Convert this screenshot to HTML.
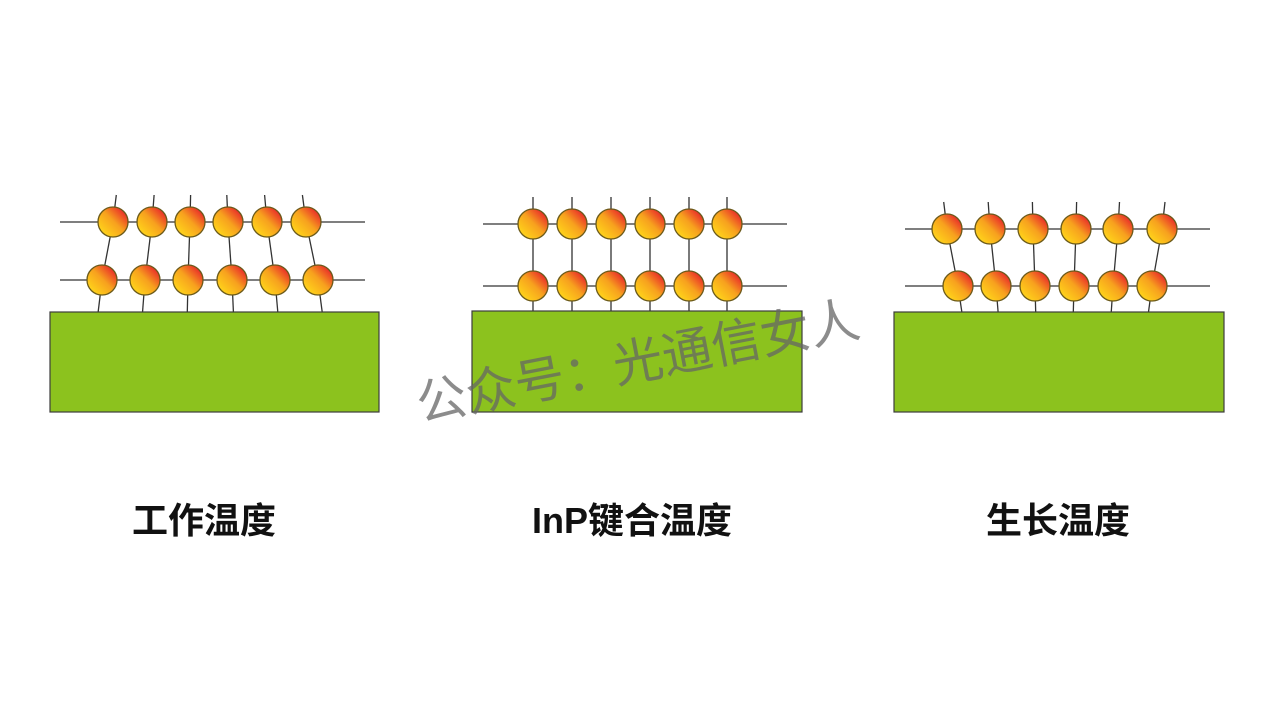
<!DOCTYPE html>
<html><head><meta charset="utf-8"><style>
html,body{margin:0;padding:0;background:#fff;width:1268px;height:714px;overflow:hidden}
</style></head><body>
<svg width="1268" height="714" xmlns="http://www.w3.org/2000/svg">
<defs>
<linearGradient id="g" x1="0.15" y1="0.85" x2="0.9" y2="0.1">
<stop offset="0" stop-color="#ffd21a"/><stop offset="0.5" stop-color="#f7a11e"/><stop offset="1" stop-color="#e8202a"/>
</linearGradient>
</defs>
<g stroke="#333" stroke-width="1.3" fill="none" id="lines"></g>
<g id="balls"></g>
<rect x="50" y="312" width="329" height="100" fill="#8cc21e" stroke="#3c3c3c" stroke-width="1.2"/>
<rect x="472" y="311" width="330" height="101" fill="#8cc21e" stroke="#3c3c3c" stroke-width="1.2"/>
<rect x="894" y="312" width="330" height="100" fill="#8cc21e" stroke="#3c3c3c" stroke-width="1.2"/>
<g font-family="Liberation Sans, Noto Sans CJK SC, sans-serif" font-weight="bold" font-size="36" text-anchor="middle" fill="#111">
<text x="204" y="533">工作温度</text>
<text x="632" y="533">InP键合温度</text>
<text x="1058" y="533">生长温度</text>
</g>
<text x="638" y="379" transform="rotate(-11 638 362)" font-family="Noto Sans CJK SC, sans-serif" font-size="50" text-anchor="middle" fill="#666" fill-opacity="0.75">公众号：光通信女人</text>
</svg>
<script>
const P=[
 {top:[113,152,190,228,267,306],ty:222,bot:[102,145,188,232,275,318],by:280,l:60,r:365,base:312},
 {top:[533,572,611,650,689,727],ty:224,bot:[533,572,611,650,689,727],by:286,l:483,r:787,base:311},
 {top:[947,990,1033,1076,1118,1162],ty:229,bot:[958,996,1035,1074,1113,1152],by:286,l:905,r:1210,base:312}
];
const ns="http://www.w3.org/2000/svg";
const L=document.getElementById('lines'),B=document.getElementById('balls');
function ln(x1,y1,x2,y2){const e=document.createElementNS(ns,'line');e.setAttribute('x1',x1);e.setAttribute('y1',y1);e.setAttribute('x2',x2);e.setAttribute('y2',y2);L.appendChild(e);}
function c(x,y){const e=document.createElementNS(ns,'circle');e.setAttribute('cx',x);e.setAttribute('cy',y);e.setAttribute('r',15);e.setAttribute('fill','url(#g)');e.setAttribute('stroke','#6b5a1a');e.setAttribute('stroke-width','1.3');B.appendChild(e);}
P.forEach(p=>{
 ln(p.l,p.ty,p.r,p.ty);ln(p.l,p.by,p.r,p.by);
 for(let i=0;i<6;i++){
  const tx=p.top[i],bx=p.bot[i];
  const dx=(tx-bx);
  ln(tx+dx*0.3,p.ty-27,tx,p.ty);
  ln(tx,p.ty,bx,p.by);
  ln(bx,p.by,bx-dx*0.35,p.base);
  c(tx,p.ty);c(bx,p.by);
 }
});
</script>
</body></html>
